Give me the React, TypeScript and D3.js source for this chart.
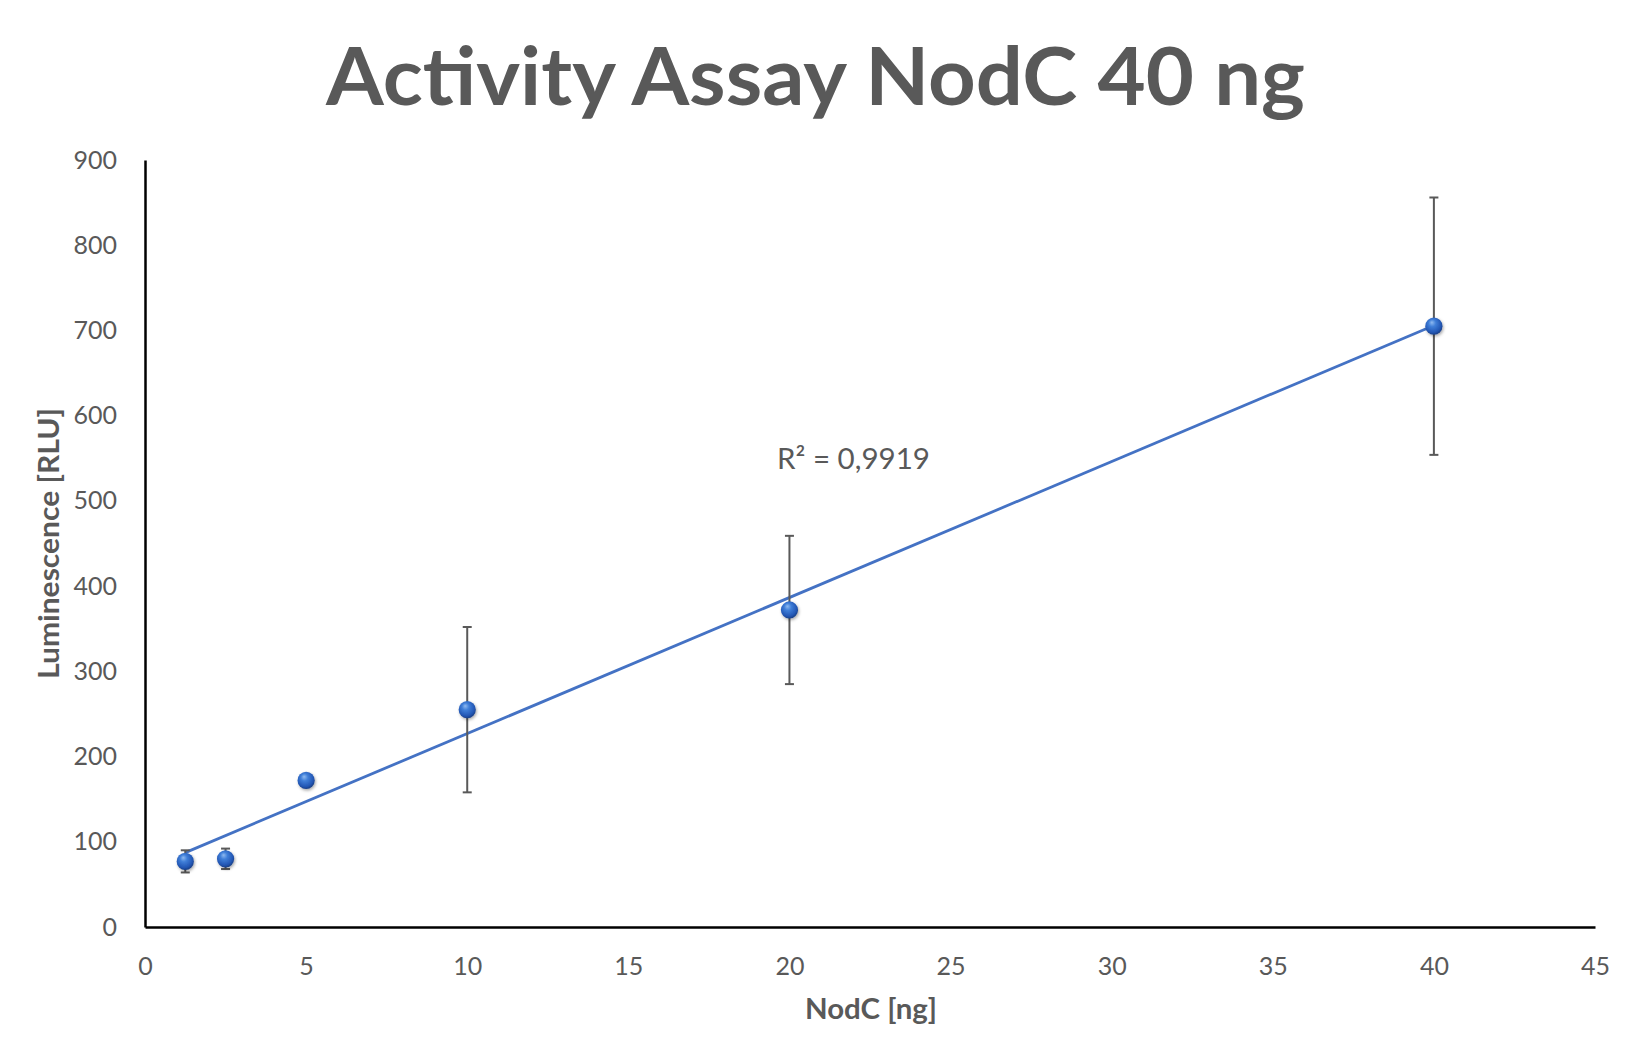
import { useEffect, useRef } from "react";
import * as d3 from "d3";

// NodC amount [ng] vs. luminescence [RLU]
const doses = [1.25, 2.5, 5, 10, 20, 40];
const means = [77, 80, 172, 255, 372, 705];
const errors = [13, 12, 0, 97, 87, 151];

const xTicks = [0, 5, 10, 15, 20, 25, 30, 35, 40, 45];
const yTicks = [0, 100, 200, 300, 400, 500, 600, 700, 800, 900];

const titleText = "Activity Assay NodC 40 ng";
const xLabel = "NodC [ng]";
const yLabel = "Luminescence [RLU]";
const r2Label = "R² = 0,9919";

const FONT = "Lato, 'Open Sans', 'DejaVu Sans', sans-serif";
const GREY = "#595959";

function App() {
  const svgRef = useRef<SVGSVGElement | null>(null);

  useEffect(() => {
    const width = 1633;
    const height = 1054;
    const margin = { top: 160, right: 38, bottom: 127, left: 145 };

    const svg = d3.select(svgRef.current);
    svg.selectAll("*").remove();
    svg.attr("width", width).attr("height", height);

    const points = doses.map((d, i) => ({ x: d, y: means[i], err: errors[i] }));

    const xScale = d3
      .scaleLinear()
      .domain([0, 45])
      .range([margin.left, width - margin.right]);

    const yScale = d3
      .scaleLinear()
      .domain([0, 900])
      .range([height - margin.bottom, margin.top]);

    // marker gradient + shadow
    const defs = svg.append("defs");
    const grad = defs
      .append("radialGradient")
      .attr("id", "ball")
      .attr("cx", "45%")
      .attr("cy", "40%")
      .attr("r", "60%")
      .attr("fx", "38%")
      .attr("fy", "28%");
    grad.append("stop").attr("offset", "0%").attr("stop-color", "#8fbaf0");
    grad.append("stop").attr("offset", "35%").attr("stop-color", "#3f7ed8");
    grad.append("stop").attr("offset", "80%").attr("stop-color", "#2357b5");
    grad.append("stop").attr("offset", "100%").attr("stop-color", "#1a3f86");

    const shadow = defs
      .append("filter")
      .attr("id", "shadow")
      .attr("x", "-50%")
      .attr("y", "-50%")
      .attr("width", "200%")
      .attr("height", "200%");
    shadow
      .append("feDropShadow")
      .attr("dx", 1)
      .attr("dy", 1.5)
      .attr("stdDeviation", 1.5)
      .attr("flood-color", "#000")
      .attr("flood-opacity", 0.35);

    // Title
    svg
      .append("text")
      .attr("x", 815.5)
      .attr("y", 105)
      .attr("text-anchor", "middle")
      .attr("fill", GREY)
      .attr("font-family", FONT)
      .attr("font-weight", "bold")
      .attr("font-size", "80px")
      .attr("textLength", 979)
      .attr("lengthAdjust", "spacingAndGlyphs")
      .text(titleText);

    // X-axis
    const xAxis = svg
      .append("g")
      .attr("transform", `translate(0, ${yScale(0)})`)
      .call(
        d3
          .axisBottom(xScale)
          .tickValues(xTicks)
          .tickSize(0)
          .tickSizeOuter(0)
          .tickPadding(30)
      );
    xAxis.selectAll("text").attr("fill", GREY).attr("font-size", "25px").attr("font-family", FONT);
    xAxis.select(".domain").attr("stroke", "#000").attr("stroke-width", 2.5);

    // Y-axis
    const yAxis = svg
      .append("g")
      .attr("transform", `translate(${xScale(0)}, 0)`)
      .call(
        d3
          .axisLeft(yScale)
          .tickValues(yTicks)
          .tickSize(0)
          .tickSizeOuter(0)
          .tickPadding(28)
      );
    yAxis.selectAll("text").attr("fill", GREY).attr("font-size", "25px").attr("font-family", FONT);
    yAxis.select(".domain").attr("stroke", "#000").attr("stroke-width", 2.5);

    // Linear trend line (least squares on the means)
    const mx = d3.mean(doses) as number;
    const my = d3.mean(means) as number;
    const sxy = d3.sum(doses, (d, i) => (d - mx) * (means[i] - my));
    const sxx = d3.sum(doses, d => (d - mx) * (d - mx));
    const slope = sxy / sxx;
    const intercept = my - slope * mx;
    const xExt = d3.extent(doses) as [number, number];

    svg
      .append("line")
      .attr("x1", xScale(xExt[0]))
      .attr("y1", yScale(intercept + slope * xExt[0]))
      .attr("x2", xScale(xExt[1]))
      .attr("y2", yScale(intercept + slope * xExt[1]))
      .attr("stroke", "#4472c4")
      .attr("stroke-width", 2.8);

    // Error bars
    const bars = svg
      .selectAll("g.err")
      .data(points.filter(d => d.err > 0))
      .enter()
      .append("g")
      .attr("class", "err")
      .attr("stroke", GREY)
      .attr("stroke-width", 2);

    bars
      .append("line")
      .attr("x1", d => xScale(d.x))
      .attr("x2", d => xScale(d.x))
      .attr("y1", d => yScale(d.y + d.err))
      .attr("y2", d => yScale(d.y - d.err));

    [1, -1].forEach(sign => {
      bars
        .append("line")
        .attr("x1", d => xScale(d.x) - 4.5)
        .attr("x2", d => xScale(d.x) + 4.5)
        .attr("y1", d => yScale(d.y + sign * d.err))
        .attr("y2", d => yScale(d.y + sign * d.err));
    });

    // Points
    svg
      .selectAll("circle.pt")
      .data(points)
      .enter()
      .append("circle")
      .attr("class", "pt")
      .attr("cx", d => xScale(d.x))
      .attr("cy", d => yScale(d.y))
      .attr("r", 8.6)
      .attr("fill", "url(#ball)")
      .attr("filter", "url(#shadow)");

    // R² label
    svg
      .append("text")
      .attr("x", 777)
      .attr("y", 469)
      .attr("fill", GREY)
      .attr("font-family", FONT)
      .attr("font-size", "29px")
      .attr("textLength", 153)
      .attr("lengthAdjust", "spacingAndGlyphs")
      .text(r2Label);

    // Axis labels
    svg
      .append("text")
      .attr("x", 871)
      .attr("y", 1019)
      .attr("text-anchor", "middle")
      .attr("fill", GREY)
      .attr("font-family", FONT)
      .attr("font-weight", "bold")
      .attr("font-size", "28px")
      .attr("textLength", 132)
      .attr("lengthAdjust", "spacingAndGlyphs")
      .text(xLabel);

    svg
      .append("text")
      .attr("transform", "translate(59, 543.5) rotate(-90)")
      .attr("text-anchor", "middle")
      .attr("fill", GREY)
      .attr("font-family", FONT)
      .attr("font-weight", "bold")
      .attr("font-size", "28px")
      .attr("textLength", 271)
      .attr("lengthAdjust", "spacingAndGlyphs")
      .text(yLabel);
  }, []);

  return (
    <svg
      ref={svgRef}
      style={{ position: "absolute", left: 0, top: 0, display: "block", background: "#fff" }}
    ></svg>
  );
}

export default App;
